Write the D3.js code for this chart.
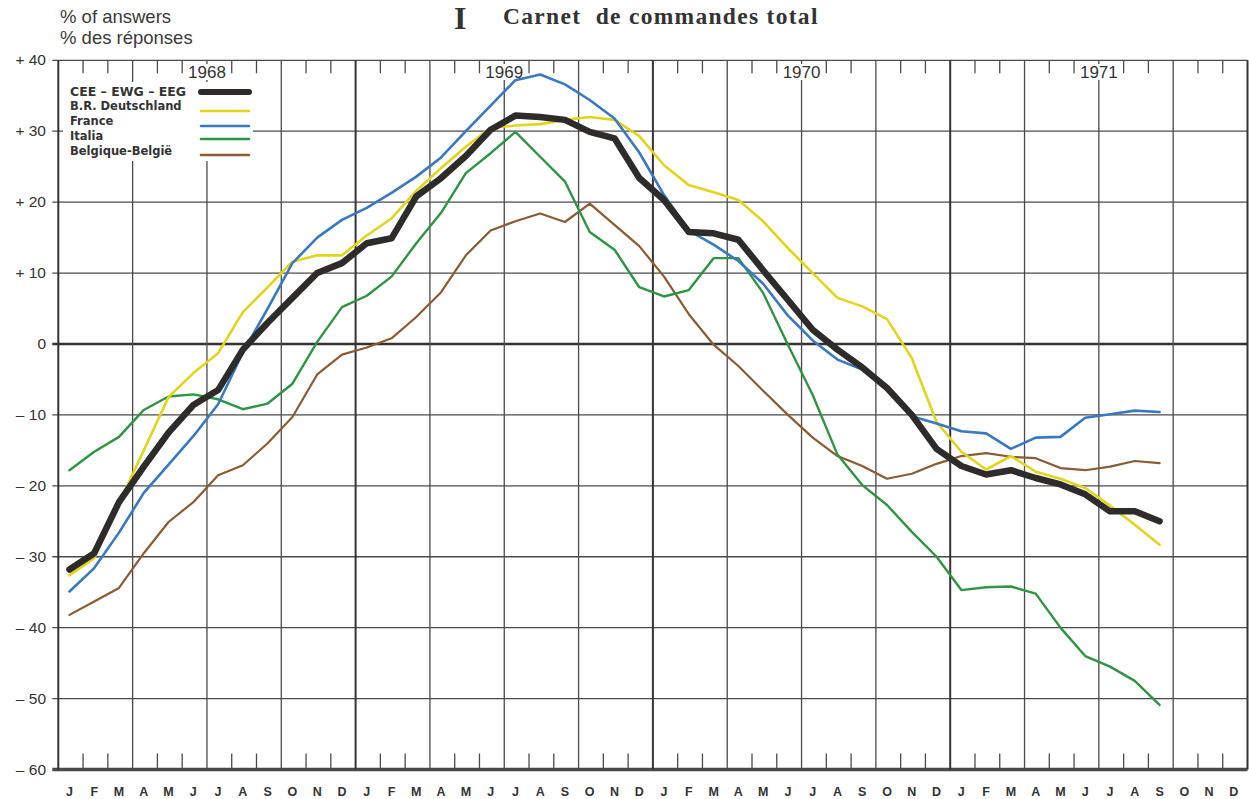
<!DOCTYPE html>
<html><head><meta charset="utf-8">
<script src="https://cdn.jsdelivr.net/npm/d3@7"></script>
<style>
html,body{margin:0;padding:0;background:#fff;}
svg{display:block;}
</style></head>
<body>
<svg id="chart" width="1249" height="799"></svg>
<script>
// ---- data (Jan 1968 .. Sep 1971, monthly, % of answers) ----
const monthLabels = ["J","F","M","A","M","J","J","A","S","O","N","D"];
const years = ["1968","1969","1970","1971"];
const yTicks = [40,30,20,10,0,-10,-20,-30,-40,-50,-60];
const seriesNames = ["CEE – EWG – EEG","B.R. Deutschland","France","Italia","Belgique-Belgiё"];

const cee = [-31.8,-29.5,-22.3,-17.3,-12.5,-8.6,-6.5,-0.8,3.0,6.5,
  10.0,11.4,14.2,14.9,20.8,23.4,26.5,30.2,32.2,32.0,
  31.6,29.9,29.0,23.4,20.3,15.8,15.6,14.7,10.4,6.2,
  2.0,-0.8,-3.3,-6.2,-10.0,-14.8,-17.2,-18.4,-17.8,-18.9,
  -19.8,-21.2,-23.6,-23.6,-25.0];
const deutschland = [-32.6,-30.2,-22.5,-15.0,-7.5,-4.1,-1.3,4.5,8.0,11.6,
  12.5,12.5,15.3,17.7,21.6,24.8,27.8,30.5,30.8,31.0,
  31.6,32.0,31.6,29.3,25.2,22.4,21.4,20.3,17.3,13.5,
  10.0,6.5,5.3,3.5,-2.0,-11.0,-15.2,-17.7,-15.8,-18.0,
  -19.0,-20.3,-22.8,-25.5,-28.3];
const france = [-34.9,-31.6,-26.6,-21.0,-17.0,-13.0,-8.5,-1.2,5.0,11.4,
  15.0,17.5,19.2,21.3,23.6,26.3,30.0,33.6,37.2,38.0,
  36.6,34.4,31.8,27.0,21.0,16.0,14.0,11.7,8.5,4.0,
  0.5,-2.2,-3.6,-6.3,-10.2,-11.2,-12.3,-12.6,-14.8,-13.2,
  -13.1,-10.4,-9.9,-9.4,-9.6];
const italia = [-17.8,-15.2,-13.1,-9.3,-7.4,-7.1,-7.8,-9.2,-8.4,-5.6,
  0.3,5.2,6.8,9.5,14.2,18.5,24.1,26.9,29.9,26.4,
  22.9,15.8,13.3,8.0,6.7,7.6,12.1,12.1,7.2,-0.1,
  -7.2,-15.6,-19.9,-22.7,-26.5,-30.0,-34.7,-34.3,-34.2,-35.2,
  -40.0,-44.0,-45.5,-47.5,-50.9];
const belgique = [-38.2,-36.3,-34.4,-29.5,-25.1,-22.3,-18.5,-17.1,-14.0,-10.3,
  -4.3,-1.5,-0.5,0.8,3.8,7.3,12.5,16.0,17.3,18.4,
  17.2,19.8,16.8,13.8,9.5,4.2,-0.1,-3.1,-6.6,-10.0,
  -13.2,-15.8,-17.2,-19.0,-18.3,-16.9,-15.8,-15.4,-15.9,-16.1,
  -17.5,-17.8,-17.3,-16.5,-16.8];

const seriesData = [cee, deutschland, france, italia, belgique];
const colors = ["#2e2b2b","#e3d41c","#3a78c2","#2f9443","#8b5b33"];
const widths = [6.5,2.6,2.6,2.4,2.2];

const svg = d3.select("#chart");
const nMonths = 48;
const x = d3.scaleLinear().domain([0,nMonths]).range([58.3,1247.5]);
const y = d3.scaleLinear().domain([-60,40]).range([769.5,60.3]);
const gridColor = "#4a4a4a";

// horizontal grid
const g = svg.append("g");
g.selectAll("line.h").data(yTicks).join("line")
  .attr("x1", x(0)-6).attr("x2", x(nMonths))
  .attr("y1", d=>y(d)).attr("y2", d=>y(d))
  .attr("stroke", d=> d===0 ? "#333" : gridColor)
  .attr("stroke-width", d=> d===0 ? 2.4 : (d===-60 ? 3.5 : 1.3));

// vertical quarterly grid
const quarters = d3.range(0, nMonths+1, 3);
g.selectAll("line.v").data(quarters).join("line")
  .attr("x1", d=>x(d)).attr("x2", d=>x(d))
  .attr("y1", y(40)).attr("y2", y(-60))
  .attr("stroke", d=> d%12===0 ? "#333" : gridColor)
  .attr("stroke-width", d=> d%12===0 ? 2.0 : 1.3);

// monthly ticks top and bottom
const monthTicks = d3.range(1, nMonths).filter(d=>d%3!==0);
g.selectAll("line.tt").data(monthTicks).join("line")
  .attr("x1", d=>x(d)).attr("x2", d=>x(d))
  .attr("y1", y(40)).attr("y2", y(40)+13)
  .attr("stroke", gridColor).attr("stroke-width", 1.3);
g.selectAll("line.tb").data(monthTicks).join("line")
  .attr("x1", d=>x(d)).attr("x2", d=>x(d))
  .attr("y1", y(-60)).attr("y2", y(-60)-16)
  .attr("stroke", gridColor).attr("stroke-width", 1.3);

// legend background box
svg.append("rect").attr("x", 63).attr("y", 82).attr("width", 190).attr("height", 79).attr("fill", "#fff");

// year labels with white background
const yearG = svg.append("g");
years.forEach((yr,k)=>{
  const cx = x(k*12+6);
  yearG.append("rect").attr("x", cx-20).attr("y", 64).attr("width", 40).attr("height", 16).attr("fill","#fff");
  yearG.append("text").attr("x", cx).attr("y", 78).attr("text-anchor","middle")
    .attr("font-family","'Liberation Sans', Arial, sans-serif").attr("font-size",17)
    .attr("fill","#333").text(yr);
});

// y axis labels
svg.append("g").selectAll("text").data(yTicks).join("text")
  .attr("x", 46).attr("y", d=>y(d)+5).attr("text-anchor","end")
  .attr("font-family","'Liberation Sans', Arial, sans-serif").attr("font-size",15.5)
  .attr("fill","#333")
  .text(d=> d>0 ? "+ "+d : (d<0 ? "– "+Math.abs(d) : "0"));

// x month labels
const allMonths = d3.range(nMonths);
svg.append("g").selectAll("text").data(allMonths).join("text")
  .attr("x", d=>x(d+0.45)).attr("y", 796).attr("text-anchor","middle")
  .attr("font-family","'Liberation Sans Narrow','Liberation Sans', Arial, sans-serif").attr("font-size",12.5)
  .attr("font-weight","bold").attr("fill","#333")
  .text(d=>monthLabels[d%12]);

// header texts
svg.append("text").attr("x",60).attr("y",22.5).attr("font-family","'Liberation Sans', Arial, sans-serif")
  .attr("font-size",18.5).attr("fill","#3a3a3a").text("% of answers");
svg.append("text").attr("x",60).attr("y",43.5).attr("font-family","'Liberation Sans', Arial, sans-serif")
  .attr("font-size",18.5).attr("fill","#3a3a3a").text("% des réponses");
svg.append("text").attr("x",454).attr("y",28.5).attr("font-family","'Liberation Serif', 'Times New Roman', serif")
  .attr("font-size",32).attr("font-weight","bold").attr("fill","#333").text("I");
svg.append("text").attr("x",503).attr("y",24).attr("font-family","'Liberation Serif', 'Times New Roman', serif")
  .attr("font-size",23.5).attr("font-weight","bold").attr("fill","#333")
  .attr("letter-spacing",1.3).style("white-space","pre").text("Carnet  de commandes total");

// series lines
const line = d3.line().x((d,i)=>x(i+0.45)).y(d=>y(d));
const order = [4,3,1,2,0];
const linesG = svg.append("g");
order.forEach(k=>{
  linesG.append("path").datum(seriesData[k]).attr("d", line)
    .attr("fill","none").attr("stroke", colors[k]).attr("stroke-width", widths[k])
    .attr("stroke-linejoin","round").attr("stroke-linecap","round");
});

// legend
const legY = [96,110,125,140,155];
const legLineY = [92,111,126,139,155];
const lg = svg.append("g");
seriesNames.forEach((nm,k)=>{
  lg.append("text").attr("x",70).attr("y",legY[k])
    .attr("font-family","'DejaVu Sans', sans-serif").attr("font-size",k===0?12.5:11.5)
    .attr("font-weight", "bold").attr("fill","#333").text(nm);
  lg.append("line").attr("x1",201).attr("x2",249).attr("y1",legLineY[k]).attr("y2",legLineY[k])
    .attr("stroke",colors[k]).attr("stroke-width", k===0?6:2.6).attr("stroke-linecap","round");
});
</script>
</body></html>
